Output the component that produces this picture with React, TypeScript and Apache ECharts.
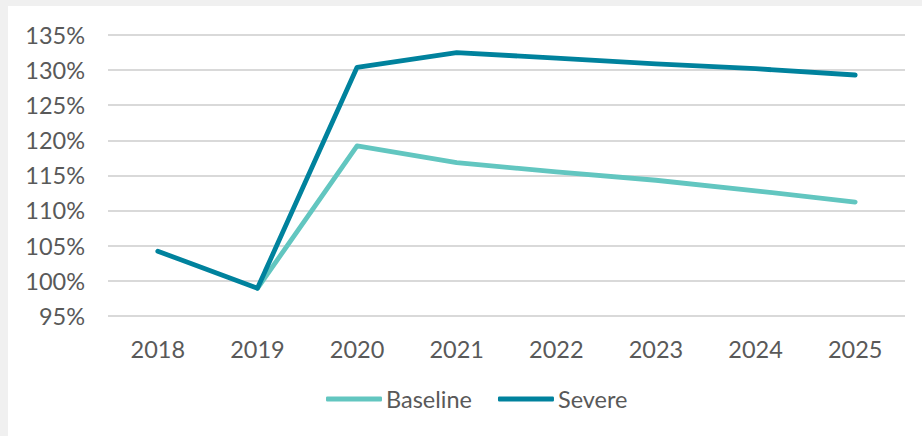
import React, { useEffect, useRef } from "react";
import * as echarts from "echarts";

const years = ["2018", "2019", "2020", "2021", "2022", "2023", "2024", "2025"];
const baseline = [null, 98.9, 119.2, 116.8, 115.5, 114.3, 112.8, 111.2];
const severe = [104.2, 98.9, 130.4, 132.5, 131.7, 130.9, 130.2, 129.3];

const FONT = "Lato, 'Noto Sans', sans-serif";
const TEXT = "#595959";
const SIZE = 23.5;

export default function App() {
  const ref = useRef<HTMLDivElement>(null);

  useEffect(() => {
    document.body.style.margin = "0";
    document.body.style.background = "#f0f0f0";
    if (!ref.current) return;
    const chart = echarts.init(ref.current, undefined, { renderer: "svg" });
    chart.setOption({
      animation: false,
      backgroundColor: "#ffffff",
      textStyle: { fontFamily: FONT },
      grid: { left: 100, right: 17, top: 29, bottom: 120.3 },
      legend: {
        left: 313,
        top: 376,
        icon: "roundRect",
        itemWidth: 56,
        itemHeight: 5,
        itemGap: 26,
        textStyle: { fontFamily: FONT, fontSize: SIZE, color: TEXT, padding: [0, 0, 0, -1] },
        data: ["Baseline", "Severe"],
      },
      xAxis: {
        type: "category",
        data: years,
        boundaryGap: true,
        axisLine: { show: false },
        axisTick: { show: false },
        axisLabel: { fontFamily: FONT, fontSize: SIZE, color: TEXT, margin: 21 },
      },
      yAxis: {
        type: "value",
        min: 95,
        max: 135,
        interval: 5,
        axisLine: { show: false },
        axisTick: { show: false },
        axisLabel: {
          fontFamily: FONT,
          fontSize: SIZE,
          color: TEXT,
          margin: 23,
          formatter: (v: number) => `${v}%`,
        },
        splitLine: { lineStyle: { color: "#d9d9d9", width: 2 } },
      },
      series: [
        {
          name: "Baseline",
          type: "line",
          data: baseline,
          showSymbol: false,
          symbol: "none",
          color: "#62c6c0",
          lineStyle: { color: "#62c6c0", width: 4.8, cap: "round", join: "round" },
        },
        {
          name: "Severe",
          type: "line",
          data: severe,
          showSymbol: false,
          symbol: "none",
          color: "#00829d",
          lineStyle: { color: "#00829d", width: 4.8, cap: "round", join: "round" },
        },
      ],
    });
    return () => chart.dispose();
  }, []);

  return (
    <div
      ref={ref}
      style={{ position: "fixed", left: 8, top: 6, width: 914, height: 430 }}
    />
  );
}
